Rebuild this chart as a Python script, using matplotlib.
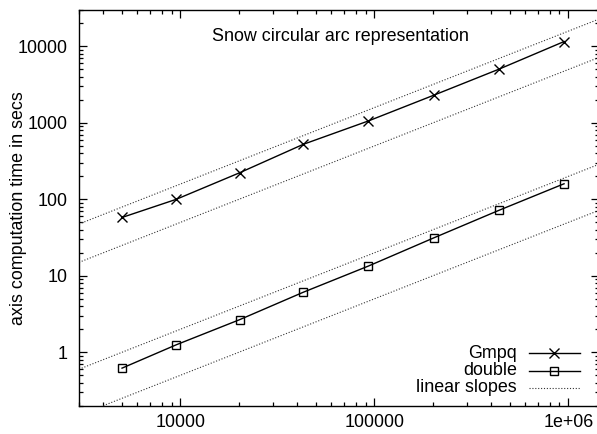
import matplotlib
matplotlib.use("Agg")
import matplotlib.pyplot as plt
from matplotlib.lines import Line2D
from matplotlib.ticker import LogLocator, NullFormatter, FixedLocator, FixedFormatter

plt.rcParams['font.family'] = ['Liberation Sans', 'DejaVu Sans']

# data
sizes = [5000, 9500, 20200, 43000, 93000, 202000, 438000, 950000]
gmpq = [58, 100, 223, 525, 1060, 2300, 5040, 11600]
double = [0.62, 1.25, 2.67, 6.1, 13.4, 31.3, 71.8, 160]
slope_divisors = [63, 200, 5000, 20000]
slope_x = [3000, 1.5e6]

xticks = [1e4, 1e5, 1e6]
xtick_labels = ["10000", "100000", "1e+06"]
yticks = [1, 10, 100, 1000, 10000]
ytick_labels = ["1", "10", "100", "1000", "10000"]

title = "Snow circular arc representation"
ylabel = "axis computation time in secs"
legend_labels = ["Gmpq", "double", "linear slopes"]

W, H = 597, 434
fig = plt.figure(figsize=(W / 100, H / 100), dpi=100)
L, R, T, B = 79, 598.5, 10, 405.7
ax = fig.add_axes([L / W, (H - B) / H, (R - L) / W, (B - T) / H])
ax.set_xscale('log')
ax.set_yscale('log')
ax.set_xlim(3000, 1.43e6)
ax.set_ylim(0.2, 30000)

fs = 12.9
dot = (0, (1, 1.6))
for d in slope_divisors:
    ax.plot(slope_x, [v / d for v in slope_x], color='#333333', lw=0.8, ls=dot)
ax.plot(sizes, gmpq, color='black', lw=1.0, marker='x', ms=6.5, mew=1.0)
ax.plot(sizes, double, color='black', lw=1.0, marker='s', ms=6.2, mew=1.0, mfc='none')

ax.xaxis.set_major_locator(FixedLocator(xticks))
ax.xaxis.set_major_formatter(FixedFormatter(xtick_labels))
ax.yaxis.set_major_locator(FixedLocator(yticks))
ax.yaxis.set_major_formatter(FixedFormatter(ytick_labels))
for a in (ax.xaxis, ax.yaxis):
    a.set_minor_locator(LogLocator(base=10, subs=range(2, 10)))
    a.set_minor_formatter(NullFormatter())
ax.tick_params(which='both', direction='in', top=True, right=True, labelsize=fs, width=0.9)
ax.tick_params(which='major', length=6)
ax.tick_params(which='minor', length=3)
ax.tick_params(axis='y', pad=8)
ax.tick_params(axis='x', pad=6)
for s in ax.spines.values():
    s.set_linewidth(1.0)

ax.text(0.5024, 0.932, title, transform=ax.transAxes, ha='center', va='center', fontsize=fs)
fig.text(19 / W, 1 - 208 / H, ylabel, rotation=90, ha='center', va='center', fontsize=fs)

# legend (gnuplot style, drawn in pixel positions)
rows_y = [353.3, 370.7, 388.0]
styles = [dict(marker='x', ms=6.5, mew=1.0, ls='-', lw=1.0, color='black'),
          dict(marker='s', ms=6.2, mew=1.0, mfc='none', ls='-', lw=1.0, color='black'),
          dict(marker=None, ls=dot, lw=0.8, color='#333333')]
for lab, yy, st in zip(legend_labels, rows_y, styles):
    yf = 1 - yy / H
    fig.text(517 / W, yf, lab, ha='right', va='center', fontsize=fs)
    fig.add_artist(Line2D([528.7 / W, 579.7 / W], [yf, yf], transform=fig.transFigure,
                          **{k: v for k, v in st.items() if k not in ('marker', 'ms', 'mew', 'mfc')}))
    if st.get('marker'):
        fig.add_artist(Line2D([554.2 / W], [yf], transform=fig.transFigure, marker=st['marker'],
                              ms=st['ms'], mew=st['mew'], mfc=st.get('mfc', 'black'),
                              color='black', ls='none'))

fig.savefig('out.png', dpi=100)
